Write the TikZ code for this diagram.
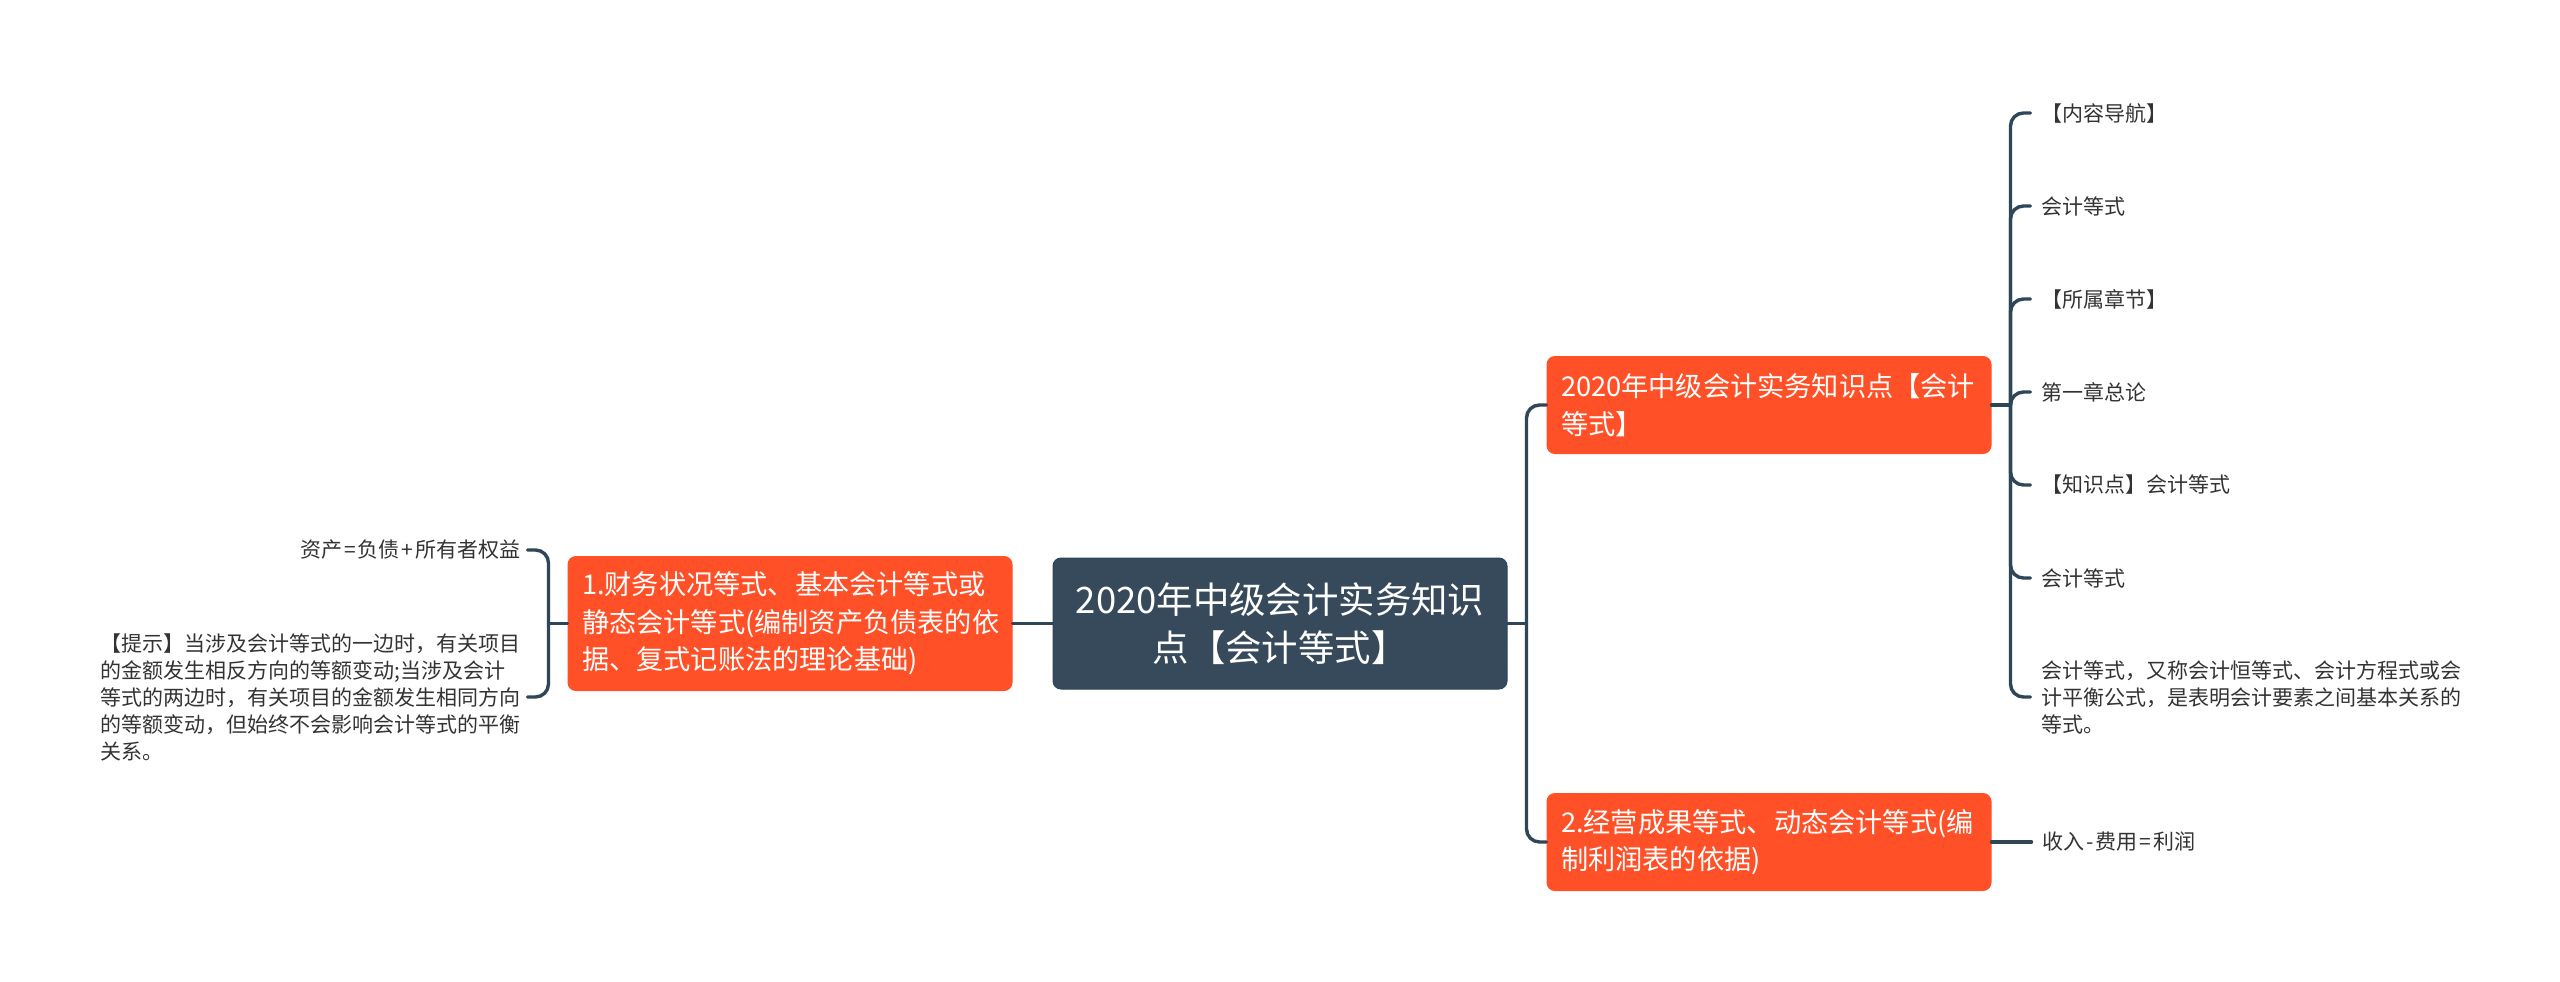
\documentclass[tikz,border=0pt]{standalone}
\usepackage{fontspec}
\setmainfont{Noto Sans CJK SC}
\usepackage{tikz}
\usetikzlibrary{positioning}
\definecolor{slatebox}{HTML}{374A5C}
\definecolor{slateline}{HTML}{2F4558}
\definecolor{redbox}{HTML}{FF5027}
\definecolor{leaftext}{HTML}{333333}
\tikzset{
  rootbox/.style={draw=slateline,line width=0.5pt,fill=slatebox,text=white,rounded corners=4pt,
    minimum width=227pt,minimum height=65.5pt,align=center,inner sep=0pt,
    font=\fontsize{18.2pt}{24.2pt}\selectfont},
  topicbox/.style={draw=redbox,line width=0.5pt,fill=redbox,text=white,rounded corners=4pt,
    minimum width=222pt,align=left,text width=208pt,inner xsep=7pt,inner ysep=0pt,
    font=\fontsize{13.6pt}{18.8pt}\selectfont},
  leaf/.style={text=leaftext,inner xsep=5.5pt,inner ysep=0pt,outer sep=0pt,align=left,
    font=\fontsize{10.5pt}{13.5pt}\selectfont},
  leftleaf/.style={leaf,inner xsep=3.5pt},
  conn/.style={draw=slateline,line width=1.7pt,line cap=round,rounded corners=6.5pt}
}
\begin{document}
\begin{tikzpicture}[x=0.5pt,y=-0.5pt]
\useasboundingbox (0,0) rectangle (2560,981);

\node(root)[rootbox] at (1280,623.5) {2020年中级会计实务知识\\点【会计等式】};

\node(L)[topicbox,minimum height=67pt,left=20pt of root] {1.财务状况等式、基本会计等式或\\静态会计等式(编制资产负债表的依\\据、复式记账法的理论基础)};
\node(T)[topicbox,minimum height=48.5pt,right=19.5pt of root,yshift=109.25pt] {2020年中级会计实务知识点【会计\\等式】};
\node(B)[topicbox,minimum height=48.5pt,right=19.5pt of root,yshift=-109.25pt] {2.经营成果等式、动态会计等式(编\\制利润表的依据)};

\coordinate[right=9.5pt of root] (rootsp);
\coordinate[left=9.5pt of L] (Lsp);
\coordinate[right=9.5pt of T] (Tsp);

\node(L1)[leftleaf,left=10.5pt of Lsp,yshift=36.75pt] {资产\kern1pt=\kern1pt负债\kern1pt+\kern1pt所有者权益};
\node(L2)[leftleaf,left=10.5pt of Lsp,yshift=-36.75pt] {【提示】当涉及会计等式的一边时，有关项目\\的金额发生相反方向的等额变动;当涉及会计\\等式的两边时，有关项目的金额发生相同方向\\的等额变动，但始终不会影响会计等式的平衡\\关系。};

\node(T1)[leaf,minimum height=20pt,right=10pt of Tsp,yshift=146pt] {【内容导航】};
\node(T2)[leaf,minimum height=20pt,below=26.5pt of T1.south west,anchor=north west] {会计等式};
\node(T3)[leaf,minimum height=20pt,below=26.5pt of T2.south west,anchor=north west] {【所属章节】};
\node(T4)[leaf,minimum height=20pt,below=26.5pt of T3.south west,anchor=north west] {第一章总论};
\node(T5)[leaf,minimum height=20pt,below=26.5pt of T4.south west,anchor=north west] {【知识点】会计等式};
\node(T6)[leaf,minimum height=20pt,below=26.5pt of T5.south west,anchor=north west] {会计等式};
\node(T7)[leaf,below=49.5pt of T6.south west,anchor=west] {会计等式，又称会计恒等式、会计方程式或会\\计平衡公式，是表明会计要素之间基本关系的\\等式。};

\node(B1)[leaf,right=20pt of B] {收入\kern1pt-\kern1pt费用\kern1pt=\kern1pt利润};

\draw[conn] (root.east) -- (rootsp);
\draw[conn] (rootsp) |- (T.west);
\draw[conn] (rootsp) |- (B.west);

\draw[conn] (root.west) -- (L.east);
\draw[conn] (L.west) -- (Lsp);
\draw[conn] (Lsp) |- (L1.east);
\draw[conn] (Lsp) |- (L2.east);

\draw[conn] (T.east) -- (Tsp);
\draw[conn] (Tsp) |- (T1.west);
\draw[conn] (Tsp) |- (T2.west);
\draw[conn] (Tsp) |- (T3.west);
\draw[conn] (Tsp) |- (T4.west);
\draw[conn] (Tsp) |- (T5.west);
\draw[conn] (Tsp) |- (T6.west);
\draw[conn] (Tsp) |- (T7.west);

\draw[conn] (B.east) -- (B1.west);
\end{tikzpicture}
\end{document}
